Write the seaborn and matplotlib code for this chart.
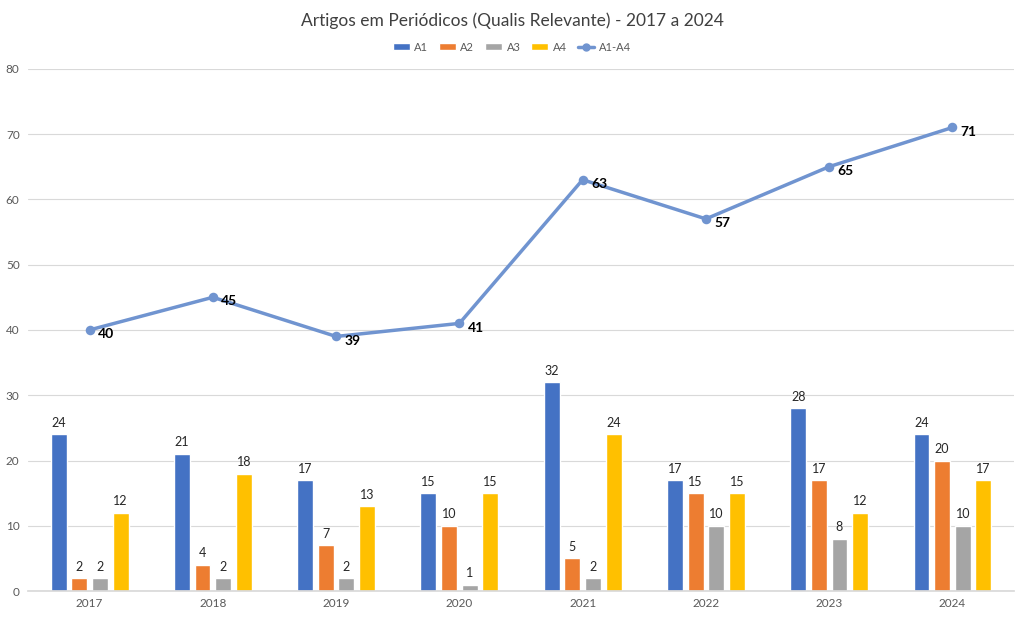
import matplotlib
matplotlib.use("Agg")
import matplotlib.pyplot as plt
import seaborn as sns
import pandas as pd
from matplotlib.patches import Patch
from matplotlib.lines import Line2D

years = ["2017", "2018", "2019", "2020", "2021", "2022", "2023", "2024"]
a1 = [24, 21, 17, 15, 32, 17, 28, 24]
a2 = [2, 4, 7, 10, 5, 15, 17, 20]
a3 = [2, 2, 2, 1, 2, 10, 8, 10]
a4 = [12, 18, 13, 15, 24, 15, 12, 17]
total = [40, 45, 39, 41, 63, 57, 65, 71]
series = ["A1", "A2", "A3", "A4"]
colors = ["#4472C4", "#ED7D31", "#A5A5A5", "#FFC000"]
line_color = "#7094D0"

sns.set_theme(style="white")
plt.rcParams["font.family"] = ["Lato", "DejaVu Sans"]

rows = []
for name, vals in zip(series, [a1, a2, a3, a4]):
    for y, v in zip(years, vals):
        rows.append({"Ano": y, "Serie": name, "Valor": v})
df = pd.DataFrame(rows)
dft = pd.DataFrame({"Ano": years, "Total": total})

fig = plt.figure(figsize=(10.24, 6.19), dpi=100)
ax = fig.add_axes([0.0273, 0.045, 0.963, 0.844])

sns.barplot(data=df, x="Ano", y="Valor", hue="Serie", order=years,
            hue_order=series, palette=colors, width=0.67, gap=0.23,
            ax=ax, legend=False, saturation=1)
for cont in ax.containers:
    ax.bar_label(cont, padding=4, fontsize=9, color="#262626")

sns.pointplot(data=dft, x="Ano", y="Total", order=years, color=line_color,
              markers="o", markersize=5, linewidth=2.5, ax=ax)
for i, v in enumerate(total):
    ax.annotate(str(v), (i, v), xytext=(6, -3), textcoords="offset points",
                fontsize=10, fontweight="bold", color="#000000", va="center", ha="left")

ax.set_ylim(0, 80)
ax.set_yticks(range(0, 81, 10))
ax.set_xlim(-0.5, 7.5)
ax.set_xlabel("")
ax.set_ylabel("")
ax.yaxis.grid(True, color="#D9D9D9", linewidth=0.8)
ax.set_axisbelow(True)
for s in ["top", "right", "left"]:
    ax.spines[s].set_visible(False)
ax.spines["bottom"].set_color("#D9D9D9")
ax.tick_params(axis="y", length=0, labelsize=8.5, labelcolor="#595959", pad=6)
ax.tick_params(axis="x", length=0, labelsize=8.5, labelcolor="#595959", pad=5)
ax.set_xticks(range(len(years)))
ax.set_xticks([i + 0.5 for i in range(-1, 8)], minor=True)
ax.tick_params(axis="x", which="minor", length=4, color="#D9D9D9", direction="out")

fig.text(0.5, 0.967, "Artigos em Periódicos (Qualis Relevante) - 2017 a 2024",
         ha="center", va="center", fontsize=12.5, color="#404040")

handles = [Patch(facecolor=c, label=n) for c, n in zip(colors, series)]
handles.append(Line2D([0], [0], color=line_color, lw=2.5, marker="o", markersize=5, label="A1-A4"))
fig.legend(handles=handles, loc="center", bbox_to_anchor=(0.5, 0.924), ncol=5,
           frameon=False, fontsize=8, handlelength=1.5, handleheight=0.6,
           columnspacing=1.0, handletextpad=0.4, labelcolor="#595959")

fig.savefig("out.png", dpi=100)
